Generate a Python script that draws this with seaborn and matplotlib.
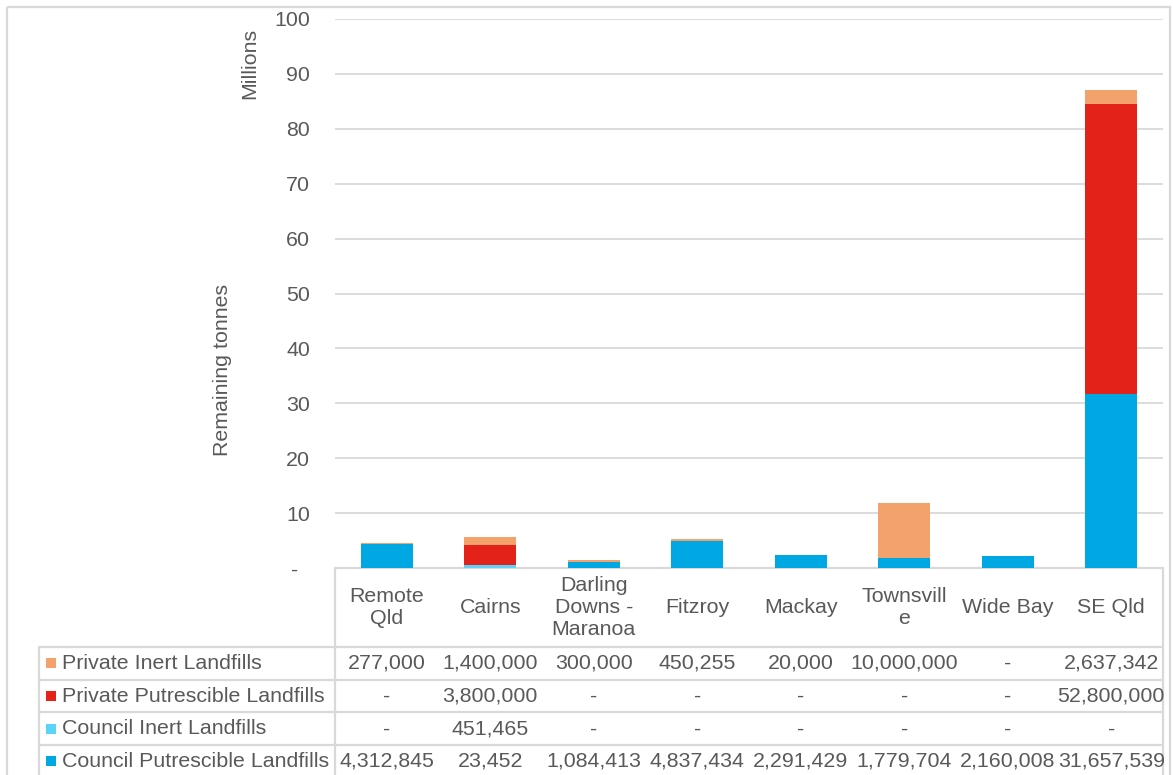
import matplotlib
matplotlib.use("Agg")
import matplotlib.pyplot as plt
import matplotlib.transforms as mtransforms
from matplotlib.patches import Rectangle
import pandas as pd
import seaborn as sns

# ---- data (tonnes of remaining landfill capacity) ----
regions = ["Remote Qld", "Cairns", "Darling Downs - Maranoa", "Fitzroy",
           "Mackay", "Townsville", "Wide Bay", "SE Qld"]
region_labels = ["Remote\nQld", "Cairns", "Darling\nDowns -\nMaranoa", "Fitzroy",
                 "Mackay", "Townsvill\ne", "Wide Bay", "SE Qld"]

private_inert = [277000, 1400000, 300000, 450255, 20000, 10000000, 0, 2637342]
private_putrescible = [0, 3800000, 0, 0, 0, 0, 0, 52800000]
council_inert = [0, 451465, 0, 0, 0, 0, 0, 0]
council_putrescible = [4312845, 23452, 1084413, 4837434, 2291429, 1779704, 2160008, 31657539]

series_names = ["Private Inert Landfills", "Private Putrescible Landfills",
                "Council Inert Landfills", "Council Putrescible Landfills"]
series_values = [private_inert, private_putrescible, council_inert, council_putrescible]
series_colors = ["#F4A26C", "#E32219", "#5CD3F9", "#00A8E3"]

y_ticks = list(range(0, 101, 10))
y_tick_labels = ["-  "] + [str(t) for t in y_ticks[1:]]

# ---- styling ----
sns.set_theme(style="white")
plt.rcParams["font.family"] = ["Liberation Sans", "DejaVu Sans"]
TEXT = "#595959"
LINE = "#D9D9D9"
FS = 15.4

W, H = 1173, 775
fig = plt.figure(figsize=(W / 100, H / 100), dpi=100)
fig.patch.set_facecolor("white")

# overlay in pixel units for the frame, titles and the data table
tab = fig.add_axes([0, 0, 1, 1])
tab.set_xlim(0, W)
tab.set_ylim(H, 0)
tab.axis("off")
tab.patch.set_visible(False)

ax = fig.add_axes([335 / W, 1 - 568 / H, 828 / W, 549 / H], zorder=2)
ax.patch.set_visible(False)

# ---- stacked columns: drawn as layered cumulative totals (bottom series last) ----
stack_order = list(range(len(series_names)))[::-1]  # bottom -> top
cum = [0.0] * len(regions)
tops = []
for s in stack_order:
    cum = [c + v / 1e6 for c, v in zip(cum, series_values[s])]
    tops.append((s, list(cum)))

for s, top in reversed(tops):
    df = pd.DataFrame({"region": regions, "top": top})
    sns.barplot(data=df, x="region", y="top", order=regions, color=series_colors[s],
                width=0.5, saturation=1, errorbar=None, linewidth=0, ax=ax)

ax.set_xlim(-0.5, len(regions) - 0.5)
ax.set_ylim(0, 100)
ax.set_yticks(y_ticks)
ax.set_yticklabels(y_tick_labels)
ax.tick_params(axis="y", length=0, pad=18, labelsize=FS, labelcolor=TEXT)
ax.set_xticks([])
ax.set_xlabel("")
ax.set_ylabel("")
ax.yaxis.grid(True, color=LINE, linewidth=1.3)
ax.set_axisbelow(True)
for sp in ax.spines.values():
    sp.set_visible(False)

# ---- axis titles ----
tab.text(250, 63, "Millions", rotation=90, ha="center", va="center", fontsize=FS, color=TEXT)
tab.text(222, 370, "Remaining tonnes", rotation=90, ha="center", va="center", fontsize=FS, color=TEXT)

# ---- outer chart frame ----
tab.add_patch(Rectangle((7, 7), 1163, 820, fill=False, edgecolor=LINE, linewidth=1.6))

# ---- data table ----
bt = mtransforms.blended_transform_factory(ax.transData, tab.transData)
x_left, x_plot, x_right = 39, 335, 1163
y_head_top, y_head_bot, row_h = 568, 647, 32.7

tab.plot([x_plot, x_right], [y_head_top, y_head_top], color=LINE, lw=1.6)
tab.plot([x_plot, x_plot], [y_head_top, H + 5], color=LINE, lw=1.6)
tab.plot([x_right, x_right], [y_head_top, H + 5], color=LINE, lw=1.6)
tab.plot([x_left, x_left], [y_head_bot, H + 5], color=LINE, lw=1.6)
for k in range(4):
    yk = y_head_bot + k * row_h
    tab.plot([x_left, x_right], [yk, yk], color=LINE, lw=1.6)

for i, lab in enumerate(region_labels):
    tab.text(i, (y_head_top + y_head_bot) / 2, lab, transform=bt, ha="center", va="center",
             fontsize=FS, color=TEXT, linespacing=1.22)

for r, (name, vals, col) in enumerate(zip(series_names, series_values, series_colors)):
    yc = y_head_bot + (r + 0.5) * row_h
    tab.add_patch(Rectangle((46, yc - 5), 10, 10, facecolor=col, edgecolor="none"))
    tab.text(62, yc, name, ha="left", va="center", fontsize=FS, color=TEXT)
    for i, v in enumerate(vals):
        txt = f"{v:,}" if v else "-"
        tab.text(i, yc, txt, transform=bt, ha="center", va="center", fontsize=FS, color=TEXT)

fig.savefig("out.png", dpi=100, facecolor="white")
